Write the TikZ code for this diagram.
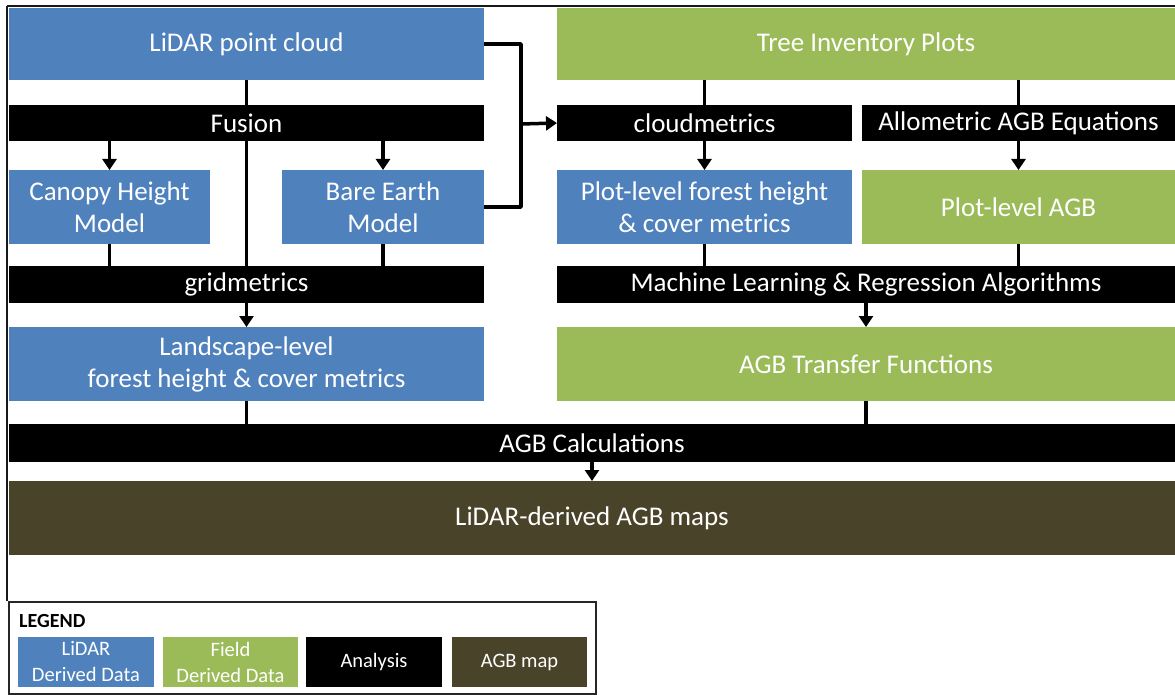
\documentclass[tikz,border=0pt]{standalone}
\usepackage{fontspec}
\setmainfont{Carlito}
\usetikzlibrary{arrows.meta,backgrounds}
\definecolor{lidarblue}{HTML}{4F81BD}
\definecolor{fieldgreen}{HTML}{9BBB59}
\definecolor{agbbrown}{HTML}{494429}
\newcommand\pbox[7]{\node[#2, minimum width={#5-#3}, minimum height={#6-#4}, anchor=north west] (#1) at (#3,#4) {#7};}
\tikzset{
  base/.style={rectangle, inner sep=0pt, outer sep=0pt, text=white, align=center,
    font=\fontsize{27}{32}\selectfont},
  lidar/.style={base, fill=lidarblue},
  field/.style={base, fill=fieldgreen},
  analysis/.style={base, fill=black},
  agbmap/.style={base, fill=agbbrown},
  smallfont/.style={font=\fontsize{20.5}{26}\selectfont},
  conn/.style={line width=3.5pt, black},
  arr/.style={conn, -{Triangle[width=14pt,length=11pt]}},
  frame/.style={line width=2.5pt, black!90}
}
\begin{document}
\begin{tikzpicture}[x=1pt,y=-1pt]
\useasboundingbox (0,0) rectangle (1175,695);
% outer frame
\draw[frame] (7,6) -- (1175,6);
\draw[frame] (7,6) -- (7,601);
% row 1
\pbox{pc}{lidar}{9}{8}{484}{80}{LiDAR point cloud}
\pbox{tip}{field}{557}{8}{1175}{80}{Tree Inventory Plots}
% row 2
\pbox{fusion}{analysis}{9}{105}{484}{141}{Fusion}
\pbox{cloud}{analysis}{557}{105}{852}{141}{cloudmetrics}
\pbox{allo}{analysis}{862}{105}{1175}{141}{\raisebox{-2pt}{Allometric AGB Equations}}
% row 3
\pbox{chm}{lidar}{9}{170}{210}{244}{Canopy Height\\Model}
\pbox{bem}{lidar}{282}{170}{484}{244}{Bare Earth\\Model}
\pbox{plf}{lidar}{557}{170}{852}{244}{Plot-level forest height\\\& cover metrics}
\pbox{pagb}{field}{862}{170}{1175}{244}{Plot-level AGB}
% row 4
\pbox{grid}{analysis}{9}{266}{484}{303}{gridmetrics}
\pbox{ml}{analysis}{557}{266}{1175}{303}{Machine Learning \& Regression Algorithms}
% row 5
\pbox{land}{lidar}{9}{327}{484}{401}{Landscape-level\\forest height \& cover metrics}
\pbox{tf}{field}{557}{327}{1175}{401}{AGB Transfer Functions}
% row 6
\pbox{calc}{analysis}{9}{424}{1175}{462}{AGB Calculations}
\pbox{maps}{agbmap}{9}{481}{1175}{555}{LiDAR-derived AGB maps}
% connectors
\coordinate (jx) at (521,124);
\begin{scope}[on background layer]
\draw[conn] (pc.south) -- (grid.north);
\draw[conn] (chm.south) -- (chm.south |- grid.north);
\draw[conn] (bem.south) -- (bem.south |- grid.north);
\draw[conn] (tip.south -| cloud.north) -- (cloud.north);
\draw[conn] (tip.south -| allo.north) -- (allo.north);
\draw[conn] (plf.south) -- (plf.south |- ml.north);
\draw[conn] (pagb.south) -- (pagb.south |- ml.north);
\draw[conn] (land.south) -- (land.south |- calc.north);
\draw[conn] (tf.south) -- (tf.south |- calc.north);
\end{scope}
\draw[conn, line join=round] (pc.east) -| (jx) |- (bem.east);
\draw[arr] (jx) -- (cloud.west);
\draw[arr] (chm.north |- fusion.south) -- (chm.north);
\draw[arr] (bem.north |- fusion.south) -- (bem.north);
\draw[arr] (cloud.south) -- (plf.north);
\draw[arr] (allo.south) -- (pagb.north);
\draw[arr] (grid.south) -- (land.north);
\draw[arr] (ml.south) -- (tf.north);
\draw[arr] (calc.south) -- (maps.north);
% legend
\node[draw=black!85, line width=2pt, inner sep=0pt, minimum width=587pt, minimum height=92pt, anchor=north west] (legend) at (8,601) {};
\node[anchor=base west, font=\fontsize{20}{24}\selectfont\bfseries, inner sep=0pt] (legtitle) at (19,627) {LEGEND};
\pbox{lgl}{lidar,smallfont}{18}{637}{154}{687}{LiDAR\\Derived Data}
\pbox{lgf}{field,smallfont}{163}{637}{298}{687}{Field\\Derived Data}
\pbox{lga}{analysis,smallfont}{306}{637}{442}{687}{Analysis}
\pbox{lgm}{agbmap,smallfont}{452}{637}{587}{687}{AGB map}
\end{tikzpicture}
\end{document}
